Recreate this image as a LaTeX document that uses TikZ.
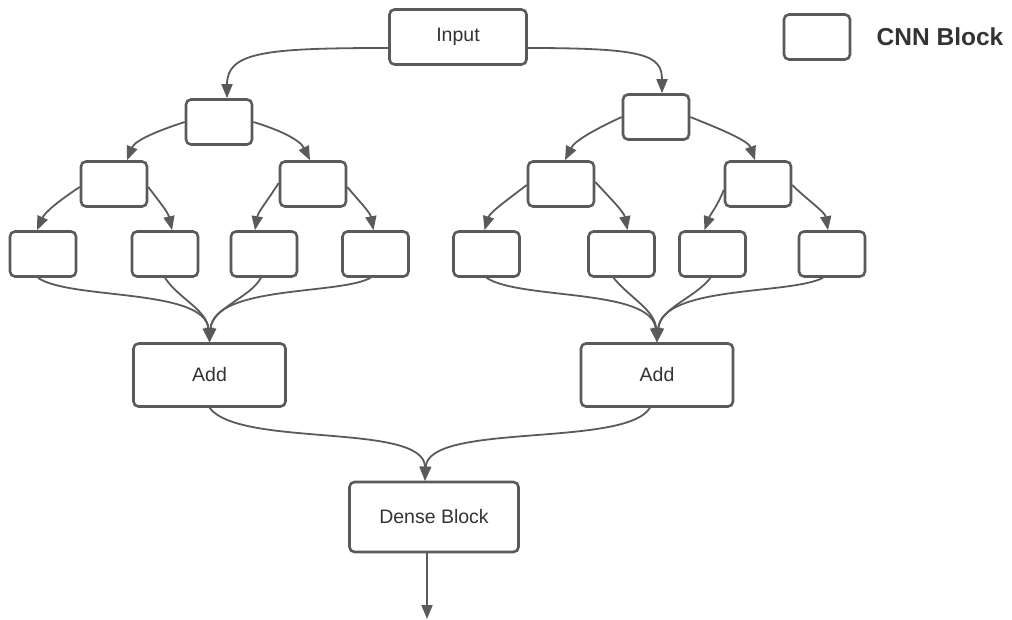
\documentclass[tikz,border=0pt]{standalone}
\usepackage{fontspec}
\setmainfont{Liberation Sans}
\usetikzlibrary{arrows.meta}
\definecolor{ln}{HTML}{5A5A5A}
\definecolor{tx}{HTML}{333333}
\tikzset{
  blk/.style={draw=ln, line width=2.6pt, rounded corners=5pt, fill=white, inner sep=0pt, text=tx, font=\fontsize{19.5}{22}\selectfont},
  cnn/.style={blk, minimum width=66pt, minimum height=45pt},
  big/.style={blk, minimum width=152pt, minimum height=63pt},
  arr/.style={draw=ln, line width=1.8pt, -{Triangle[length=14pt,width=11pt]}},
}
\begin{document}
\begin{tikzpicture}[x=1pt,y=-1pt]
\useasboundingbox (0,0) rectangle (1012,620);
% nodes
\node[blk, minimum width=137pt, minimum height=55pt] (input) at (458,37) {Input};
\node[cnn] (legend) at (817,37) {};
\node[text=tx, font=\fontsize{24.5}{28}\selectfont\bfseries] (legtext) at (940,37) {CNN Block};
% left tree
\node[cnn] (l1) at (219,122) {};
\node[cnn] (l2a) at (114,184) {};
\node[cnn] (l2b) at (313,184) {};
\node[cnn] (l3a) at (43,254) {};
\node[cnn] (l3b) at (165,254) {};
\node[cnn] (l3c) at (264,254) {};
\node[cnn] (l3d) at (375.5,254) {};
\node[big] (addl) at (209.5,375) {Add};
% right tree
\node[cnn] (r1) at (656,117) {};
\node[cnn] (r2a) at (561,184) {};
\node[cnn] (r2b) at (758,184) {};
\node[cnn] (r3a) at (486.5,254) {};
\node[cnn] (r3b) at (621.5,254) {};
\node[cnn] (r3c) at (712.5,254) {};
\node[cnn] (r3d) at (832,254) {};
\node[big] (addr) at (657,375) {Add};
\node[blk, minimum width=169pt, minimum height=70pt] (dense) at (434,517) {Dense Block};
\coordinate (out) at (427,619);
% input to trees
\draw[arr] ([yshift=-11]input.west) .. controls (265,48) and (227,52) .. ([xshift=8]l1.north);
\draw[arr] ([yshift=-11]input.east) .. controls (645,48) and (662,55) .. ([xshift=6]r1.north);
% left tree edges
\draw[arr] (l1.west) .. controls (160,130) and (135,140) .. ([xshift=13]l2a.north);
\draw[arr] (l1.east) .. controls (280,130) and (300,140) .. ([xshift=-3]l2b.north);
\draw[arr] ([yshift=-3]l2a.west) .. controls (60,200) and (45,212) .. ([xshift=-6]l3a.north);
\draw[arr] ([yshift=-3]l2a.east) .. controls (158,200) and (168,212) .. ([xshift=7]l3b.north);
\draw[arr] ([yshift=1]l2b.west) .. controls (268,200) and (258,212) .. ([xshift=-9]l3c.north);
\draw[arr] ([yshift=-3]l2b.east) .. controls (358,200) and (370,212) .. ([xshift=-2]l3d.north);
% right tree edges
\draw[arr] (r1.west) .. controls (600,127) and (575,140) .. ([xshift=4]r2a.north);
\draw[arr] (r1.east) .. controls (715,127) and (748,140) .. ([xshift=-3]r2b.north);
\draw[arr] ([yshift=-1]r2a.west) .. controls (510,198) and (490,212) .. ([xshift=-2]r3a.north);
\draw[arr] ([yshift=2]r2a.east) .. controls (610,198) and (624,212) .. ([xshift=6]r3b.north);
\draw[arr] ([yshift=-6]r2b.west) .. controls (718,205) and (710,215) .. ([xshift=-8]r3c.north);
\draw[arr] ([yshift=-1]r2b.east) .. controls (805,198) and (825,212) .. ([xshift=-4]r3d.north);
% converging to left add
\draw[arr] ([xshift=-5]l3a.south) .. controls (70,300) and (205,288) .. (addl.north);
\draw[arr] (l3b.south) .. controls (178,298) and (207,310) .. (addl.north);
\draw[arr] ([xshift=-3]l3c.south) .. controls (250,298) and (212,308) .. (addl.north);
\draw[arr] ([xshift=-5]l3d.south) .. controls (340,295) and (214,285) .. (addl.north);
% converging to right add
\draw[arr] (r3a.south) .. controls (520,300) and (652,288) .. (addr.north);
\draw[arr] ([xshift=-8]r3b.south) .. controls (630,298) and (655,310) .. (addr.north);
\draw[arr] ([xshift=-2]r3c.south) .. controls (695,298) and (660,308) .. (addr.north);
\draw[arr] ([xshift=-9]r3d.south) .. controls (790,295) and (662,285) .. (addr.north);
% adds to dense
\draw[arr] (addl.south) .. controls (240,448) and (425,422) .. ([xshift=-9]dense.north);
\draw[arr] ([xshift=-7]addr.south) .. controls (625,448) and (428,422) .. ([xshift=-9]dense.north);
\draw[arr] ([xshift=-7]dense.south) -- (out);
\end{tikzpicture}
\end{document}
